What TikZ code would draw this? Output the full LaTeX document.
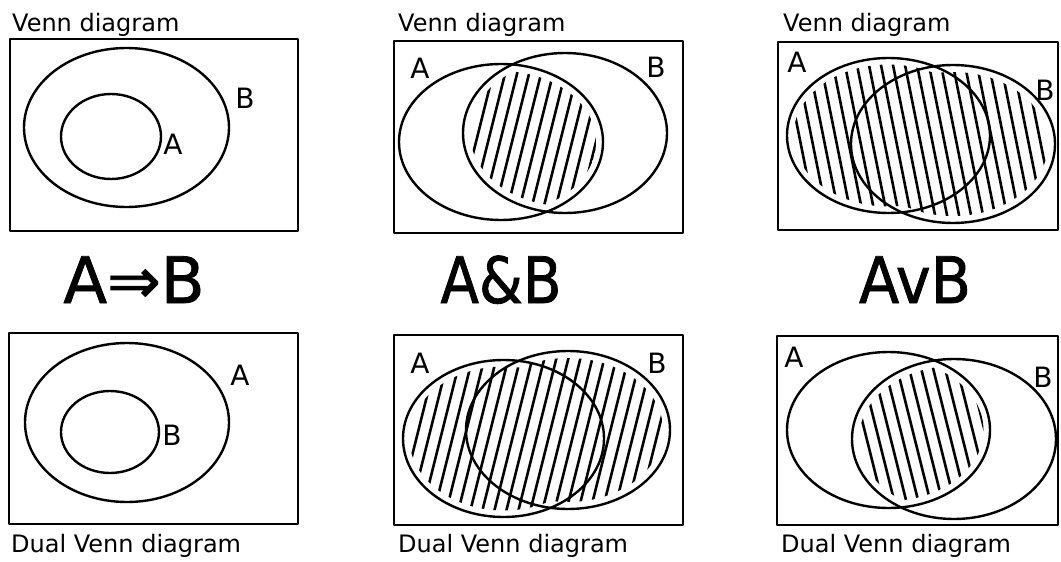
\documentclass[tikz,border=0pt]{standalone}
\usepackage{fontspec}
\setmainfont{DejaVu Sans}
\newfontfamily\fmlafont[FakeBold=1.2]{DejaVu Sans}
\begin{document}
\begin{tikzpicture}[x=1pt,y=-1pt,
  frame/.style={line width=2.4pt, line join=round},
  setline/.style={line width=2.4pt},
  hatch/.style={line width=2.6pt, line cap=round},
  caption/.style={font=\fontsize{24}{24}\selectfont, anchor=base west, inner sep=0pt},
  setname/.style={font=\fontsize{28}{28}\selectfont, inner sep=0pt},
  formula/.style={font=\fmlafont\fontsize{64}{64}\selectfont, anchor=base, inner sep=0pt}]
\useasboundingbox[fill=white] (0,0) rectangle (1061,562);

% ---------- Panel 1: top-left ----------
\node[caption] (c1) at (12,31) {Venn diagram};
\draw[frame] (10,39) rectangle (298,231);
\draw[setline] (126.5,127.5) ellipse [x radius=102.5pt, y radius=79.5pt];
\draw[setline] (111,136.5) ellipse [x radius=50pt, y radius=42.5pt];
\node[setname] (b1) at (245,98) {B};
\node[setname] (a1) at (173,144) {A};

% ---------- Panel 2: top-middle ----------
\node[caption] (c2) at (398,31) {Venn diagram};
\draw[frame] (394,41) rectangle (683,233);
\begin{scope}
  \clip (501,142) ellipse [x radius=95pt, y radius=71pt];
  \clip (565,133) ellipse [x radius=95pt, y radius=73pt];
  \foreach \x in {430,442,...,640} \draw[hatch] (\x,230) -- (\x+45,50);
\end{scope}
\draw[setline] (501,142) ellipse [x radius=102pt, y radius=78pt];
\draw[setline] (565,133) ellipse [x radius=102pt, y radius=80pt];
\node[setname] (a2) at (420,68) {A};
\node[setname] (b2) at (656,67) {B};

% ---------- Panel 3: top-right ----------
\node[caption] (c3) at (783,31) {Venn diagram};
\draw[frame] (778,42) rectangle (1058,230);
\begin{scope}
  \clip (888.5,135.5) ellipse [x radius=95pt, y radius=71pt]
        (953,144) ellipse [x radius=95pt, y radius=72pt];
  \foreach \x in {770,782,...,1060} \draw[hatch] (\x,50) -- (\x+36,230);
\end{scope}
\draw[setline] (888.5,135.5) ellipse [x radius=101.5pt, y radius=77.5pt];
\draw[setline] (953,144) ellipse [x radius=102pt, y radius=79pt];
\node[setname] (a3) at (797,62) {A};
\node[setname] (b3) at (1045,90) {B};

% ---------- Formulas ----------
\node[formula] (f1) at (134,303) {A⇒B};
\node[formula, xscale=0.88] (f2) at (501,303) {A\&B};
\node[formula, xscale=0.92] (f3) at (915,303) {AvB};

% ---------- Panel 4: bottom-left ----------
\draw[frame] (9,333) rectangle (298,524);
\draw[setline] (127,422.5) ellipse [x radius=102pt, y radius=79.5pt];
\draw[setline] (110,432) ellipse [x radius=49pt, y radius=41pt];
\node[setname] (a4) at (240,375) {A};
\node[setname] (b4) at (172,435) {B};
\node[caption] (c4) at (11,552) {Dual Venn diagram};

% ---------- Panel 5: bottom-middle ----------
\draw[frame] (394,335) rectangle (683,525);
\begin{scope}
  \clip (503.5,438.5) ellipse [x radius=94pt, y radius=72pt]
        (568,430) ellipse [x radius=95pt, y radius=72pt];
  \foreach \x in {360,372,...,680} \draw[hatch] (\x,520) -- (\x+45,340);
\end{scope}
\draw[setline] (503.5,438.5) ellipse [x radius=100.5pt, y radius=78.5pt];
\draw[setline] (568,430) ellipse [x radius=102pt, y radius=79pt];
\node[setname] (a5) at (420,363) {A};
\node[setname] (b5) at (657,363) {B};
\node[caption] (c5) at (398,552) {Dual Venn diagram};

% ---------- Panel 6: bottom-right ----------
\draw[frame] (777,336) rectangle (1058,525);
\begin{scope}
  \clip (888.5,430) ellipse [x radius=95pt, y radius=71pt];
  \clip (954,439) ellipse [x radius=95pt, y radius=73pt];
  \foreach \x in {830,842,...,1000} \draw[hatch] (\x,340) -- (\x+45,520);
\end{scope}
\draw[setline] (888.5,430) ellipse [x radius=101.5pt, y radius=78pt];
\draw[setline] (954,439) ellipse [x radius=102pt, y radius=80pt];
\node[setname] (a6) at (794,357) {A};
\node[setname] (b6) at (1043,377) {B};
\node[caption] (c6) at (781,552) {Dual Venn diagram};
\end{tikzpicture}
\end{document}
